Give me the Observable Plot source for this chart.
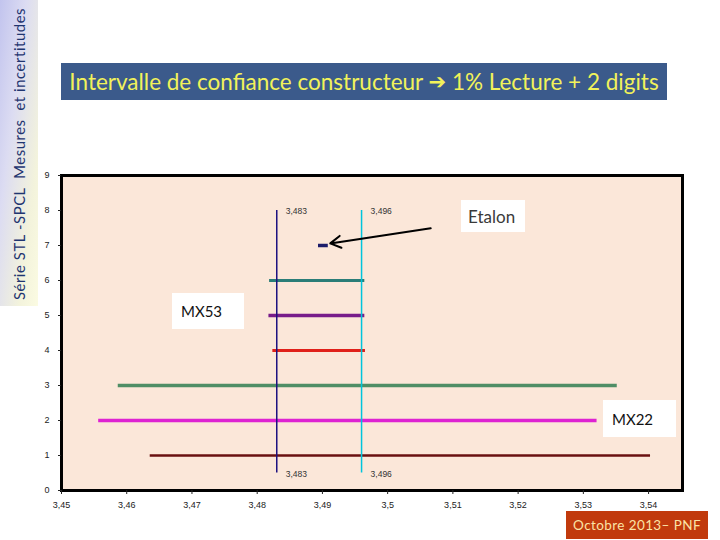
<!DOCTYPE html>
<html>
<head>
<meta charset="utf-8">
<script src="https://cdn.jsdelivr.net/npm/d3@7"></script>
<script src="https://cdn.jsdelivr.net/npm/@observablehq/plot@0.6"></script>
<style>
  body { margin: 0; background: #fff; }
  #wrap { position: relative; width: 720px; height: 540px; overflow: hidden; font-family: "Open Sans", Lato, sans-serif; }
  #wrap svg { position: absolute; left: 0; top: 0; }
  .box { position: absolute; box-sizing: border-box; }
  #side { left: 0; top: 0; width: 38px; height: 306px;
    background: linear-gradient(to bottom right, #c2c4ee 0%, #dcdcf2 35%, #f3f3dc 75%, #fbfbe2 100%); }
  #side span { position: absolute; left: 19px; top: 154px; transform: translate(-50%, -50%) rotate(-90deg);
    white-space: nowrap; color: #1f3570; font-size: 14.8px; font-family: Lato, sans-serif; letter-spacing: 0.6px; }
  #title { left: 61px; top: 63px; width: 606px; height: 37px; background: #3b5a8b; color: #f2f25a;
    font-family: Lato, sans-serif; font-size: 22.5px; display: flex; align-items: center; justify-content: center; }
  #caption { left: 566px; top: 511px; width: 142px; height: 28px; background: #c13a0d; color: #fbe3a6;
    font-family: Lato, sans-serif; font-size: 13.5px; display: flex; align-items: center; justify-content: center; letter-spacing: 0.4px; }
  .lab { background: #fff; font-family: Lato, sans-serif; display: flex; align-items: center; }
</style>
</head>
<body>
<div id="wrap"></div>
<script>
// ---- data ----
const rowY   = [7, 6, 5, 4, 3, 2, 1];
const lowX   = [3.4894, 3.4819, 3.4818, 3.4824, 3.4587, 3.4557, 3.4636];
const highX  = [3.4909, 3.4965, 3.4965, 3.4966, 3.5352, 3.5321, 3.5403];
const rowColors = ["#1c1c6a", "#2a7d78", "#781c8a", "#e0201a", "#4f8e66", "#de22d2", "#6a1010"];
const rowWidths = [3.5, 3, 3.5, 3, 3.5, 3.5, 2.5];

const refX      = [3.483, 3.496];
const refLabels = ["3,483", "3,496"];
const refColors = ["#1c1080", "#00c4dc"];
const refYBottom = 0.5, refYTop = 8;

const xTicks = [3.45, 3.46, 3.47, 3.48, 3.49, 3.50, 3.51, 3.52, 3.53, 3.54];
const yTicks = [0, 1, 2, 3, 4, 5, 6, 7, 8, 9];

const arrowFrom = {x: 3.5066, y: 7.49};
const arrowTo   = {x: 3.4912, y: 7.06};

// ---- tables ----
const segs = rowY.map((y, i) => ({y, x1: lowX[i], x2: highX[i], c: rowColors[i], w: rowWidths[i]}));
const refs = refX.map((x, i) => ({x, label: refLabels[i], c: refColors[i]}));
const arrows = [{x1: arrowFrom.x, y1: arrowFrom.y, x2: arrowTo.x, y2: arrowTo.y}];
const fmt = d => String(+d.toFixed(2)).replace(".", ",");

const plot = Plot.plot({
  width: 720,
  height: 540,
  marginLeft: 61,
  marginRight: 38,
  marginTop: 175,
  marginBottom: 50,
  style: {background: "transparent", fontFamily: "Liberation Sans, Arial, sans-serif", fontSize: "9px", color: "#222"},
  color: {type: "identity"},
  x: {domain: [3.45, 3.5452], ticks: xTicks, tickFormat: fmt, label: null, tickSize: 4, tickPadding: 7},
  y: {domain: [0, 9], ticks: yTicks, label: null, tickSize: 3, tickPadding: 8},
  marks: [
    Plot.frame({fill: "#fbe7d9", stroke: null}),
    Plot.ruleY(segs, {y: "y", x1: "x1", x2: "x2", stroke: "c", strokeWidth: "w"}),
    Plot.ruleX(refs, {x: "x", y1: refYBottom, y2: refYTop, stroke: "c", strokeWidth: 1.5}),
    Plot.text(refs, {x: "x", y: refYTop, text: "label", textAnchor: "start", dx: 9, dy: 1, fontSize: 8.5, fill: "#333"}),
    Plot.text(refs, {x: "x", y: refYBottom, text: "label", textAnchor: "start", dx: 9, dy: 1, fontSize: 8.5, fill: "#333"}),
    Plot.arrow(arrows, {x1: "x1", y1: "y1", x2: "x2", y2: "y2", stroke: "#000", strokeWidth: 2, headLength: 9, bend: 0}),
    Plot.frame({stroke: "#000", strokeWidth: 3}),
    Plot.axisX({ticks: xTicks, tickFormat: fmt, tickSize: 4, tickPadding: 7}),
    Plot.axisY({ticks: yTicks, tickSize: 3, tickPadding: 9})
  ]
});

const wrap = document.getElementById("wrap");
wrap.appendChild(plot);

function addBox(id, cls, html, style) {
  const d = document.createElement("div");
  if (id) d.id = id;
  d.className = "box " + (cls || "");
  d.innerHTML = html;
  Object.assign(d.style, style || {});
  wrap.appendChild(d);
}
addBox("side", "", "<span>Série STL -SPCL&nbsp; Mesures&nbsp; et incertitudes</span>");
addBox("title", "", "Intervalle de confiance constructeur&nbsp;<span style=\"font-family:'DejaVu Sans';font-size:21px;font-weight:bold\">➔</span>&nbsp;1% Lecture + 2 digits");
addBox("caption", "", "Octobre 2013– PNF");
addBox(null, "lab", "Etalon", {left: "461px", top: "200px", width: "64px", height: "32px", fontSize: "17px", color: "#3a3a3a", paddingLeft: "7px"});
addBox(null, "lab", "MX53", {left: "172px", top: "293px", width: "72px", height: "36px", fontSize: "15px", color: "#111", paddingLeft: "9px"});
addBox(null, "lab", "MX22", {left: "603px", top: "400px", width: "73px", height: "37px", fontSize: "15px", color: "#111", paddingLeft: "9px"});
</script>
</body>
</html>
